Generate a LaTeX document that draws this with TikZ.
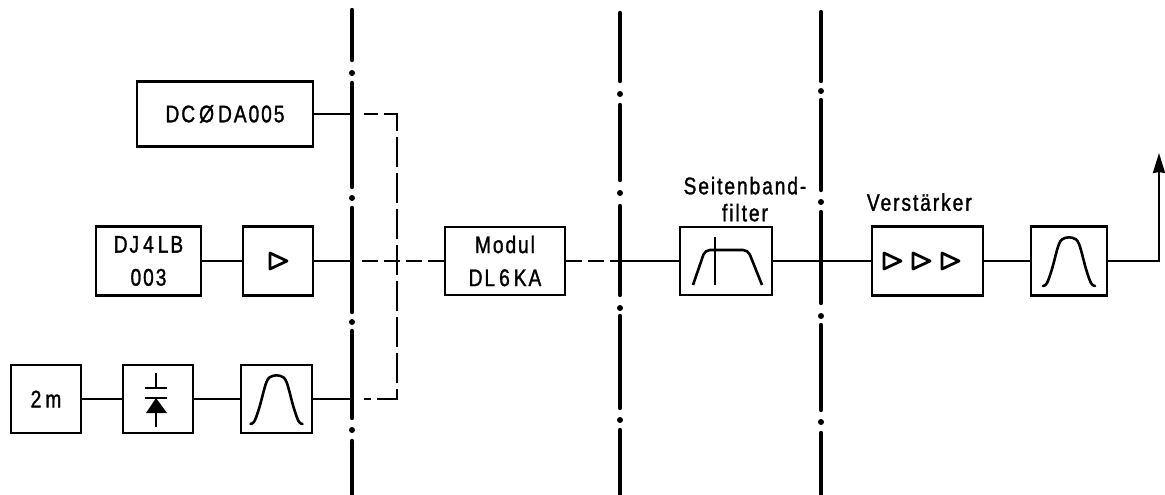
\documentclass[tikz,border=0pt]{standalone}
\usepackage{fontspec}
\setmainfont[FakeStretch=.8,LetterSpace=8,FakeBold=1.3]{Liberation Sans}
\usetikzlibrary{arrows.meta,calc,positioning}
\tikzset{
 blk/.style={draw,line width=2.6pt,inner sep=0pt,align=center,font=\fontsize{24}{33}\selectfont},
 lbl/.style={inner sep=0pt,align=center,font=\fontsize{24}{27}\selectfont},
 wire/.style={line width=2.3pt},
 thinwire/.style={line width=1.7pt},
 dwire/.style={line width=2.3pt,dash pattern=on 16pt off 6pt},
 bus/.style={line width=4.4pt,line cap=round},
 bell/.pic={\draw[line width=2.6pt,line cap=round]plot[smooth,tension=.6]coordinates{(-26,25)(-22,22)(-17,8)(-10,-17)(-4,-23)(4,-23)(10,-17)(17,8)(22,22)(26,25)};},
 ampl/.pic={\draw[line width=2.8pt,line join=round](-8,-8)--(9,0)--(-8,8)--cycle;}
}
\begin{document}
\begin{tikzpicture}[x=1pt,y=-1pt,>=Stealth]
 \useasboundingbox(0,0)rectangle(1165,495);
 % separation lines
 \foreach \a/\b in {10/60,83/187,208/312,331/418,441/495}\draw[bus](352,\a)--(352,\b);
 \foreach \a in {73,198,322,430}\fill(352,\a)circle(3);
 \foreach \a/\b in {13/81,105/180,206/295,316/408,430/495}\draw[bus](620,\a)--(620,\b);
 \foreach \a in {94,193,308,420}\fill(620,\a)circle(3);
 \foreach \a/\b in {12/81,100/190,212/303,325/410,433/495}\draw[bus](821,\a)--(821,\b);
 \foreach \a in {91,202,316,422}\fill(821,\a)circle(3);
 % blocks
 \node[blk,minimum width=176,minimum height=65](dc)at(225,114){DC\,Ø\,DA005};
 \node[blk,minimum width=105,minimum height=69](dj)at(148.5,261){DJ\,4\,LB\\003};
 \node[blk,minimum width=70,minimum height=69](vor)at(278,261){};
 \node[blk,minimum width=70,minimum height=68](zwei)at(46,399){2\,m};
 \node[blk,minimum width=70,minimum height=68](mix)at(158,399){};
 \node[blk,minimum width=71,minimum height=68](fa)at(276.5,399){};
 \node[blk,minimum width=120,minimum height=68](mod)at(505,261){Modul\\DL\,6\,KA};
 \node[blk,minimum width=92,minimum height=68](sbf)at(726,261){};
 \node[blk,minimum width=111,minimum height=69](vst)at(927.5,261){};
 \node[blk,minimum width=76,minimum height=69](fb)at(1069,261){};
 \node[lbl,above=4pt of sbf,xshift=19pt]{Seitenband-\\filter};
 \node[lbl,above=14pt of vst.north west,anchor=south west,xshift=-4pt]{Verstärker};
 % symbols
 \pic at(fa){bell};
 \pic at(fb){bell};
 \pic at(vor){ampl};
 \pic at(892,261){ampl};
 \pic at(921,261){ampl};
 \pic at(950,261){ampl};
 \draw[line width=2.4pt](156,373)--(156,388);
 \draw[line width=2.8pt](145,388)--(167,388);
 \draw[line width=2.8pt](145,398)--(167,398);
 \fill(156,398)--(167,413)--(146,413)--cycle;
 \draw[line width=2.4pt](156,410)--(156,427);
 \draw[line width=2.6pt,rounded corners=5pt](693,285)--(705,250)--(748,250)--(762,285);
 \draw[line width=2.2pt](715,237)--(715,285);
 % connectors
 \coordinate(ba)at(352,114);
 \coordinate(bb)at(352,261);
 \coordinate(bc)at(352,399);
 \coordinate(bd)at(620,261);
 \coordinate(be)at(1159,261);
 \coordinate(ka)at(364,114);
 \coordinate(kb)at(397,114);
 \coordinate(kc)at(397,399);
 \coordinate(kd)at(364,399);
 \coordinate(ke)at(362,261);
 \coordinate(out)at(1159,153);
 \draw[wire](dc)--(ba);
 \draw[wire](dj)--(vor);
 \draw[wire](vor)--(bb);
 \draw[thinwire](zwei)--(mix);
 \draw[thinwire](mix)--(fa);
 \draw[thinwire](fa)--(bc);
 \draw[dwire,dash pattern=on 30pt off 6pt,dash phase=16pt](ka)--(kb)--(kc)--(kd);
 \draw[dwire](ke)--(mod);
 \draw[dwire](mod)--(bd);
 \draw[wire](bd)--(sbf);
 \draw[wire](sbf)--(vst);
 \draw[wire](vst)--(fb);
 \draw[wire,-{Stealth[length=20pt,width=12pt,inset=1pt]}](fb)--(be)--(out);
\end{tikzpicture}
\end{document}
